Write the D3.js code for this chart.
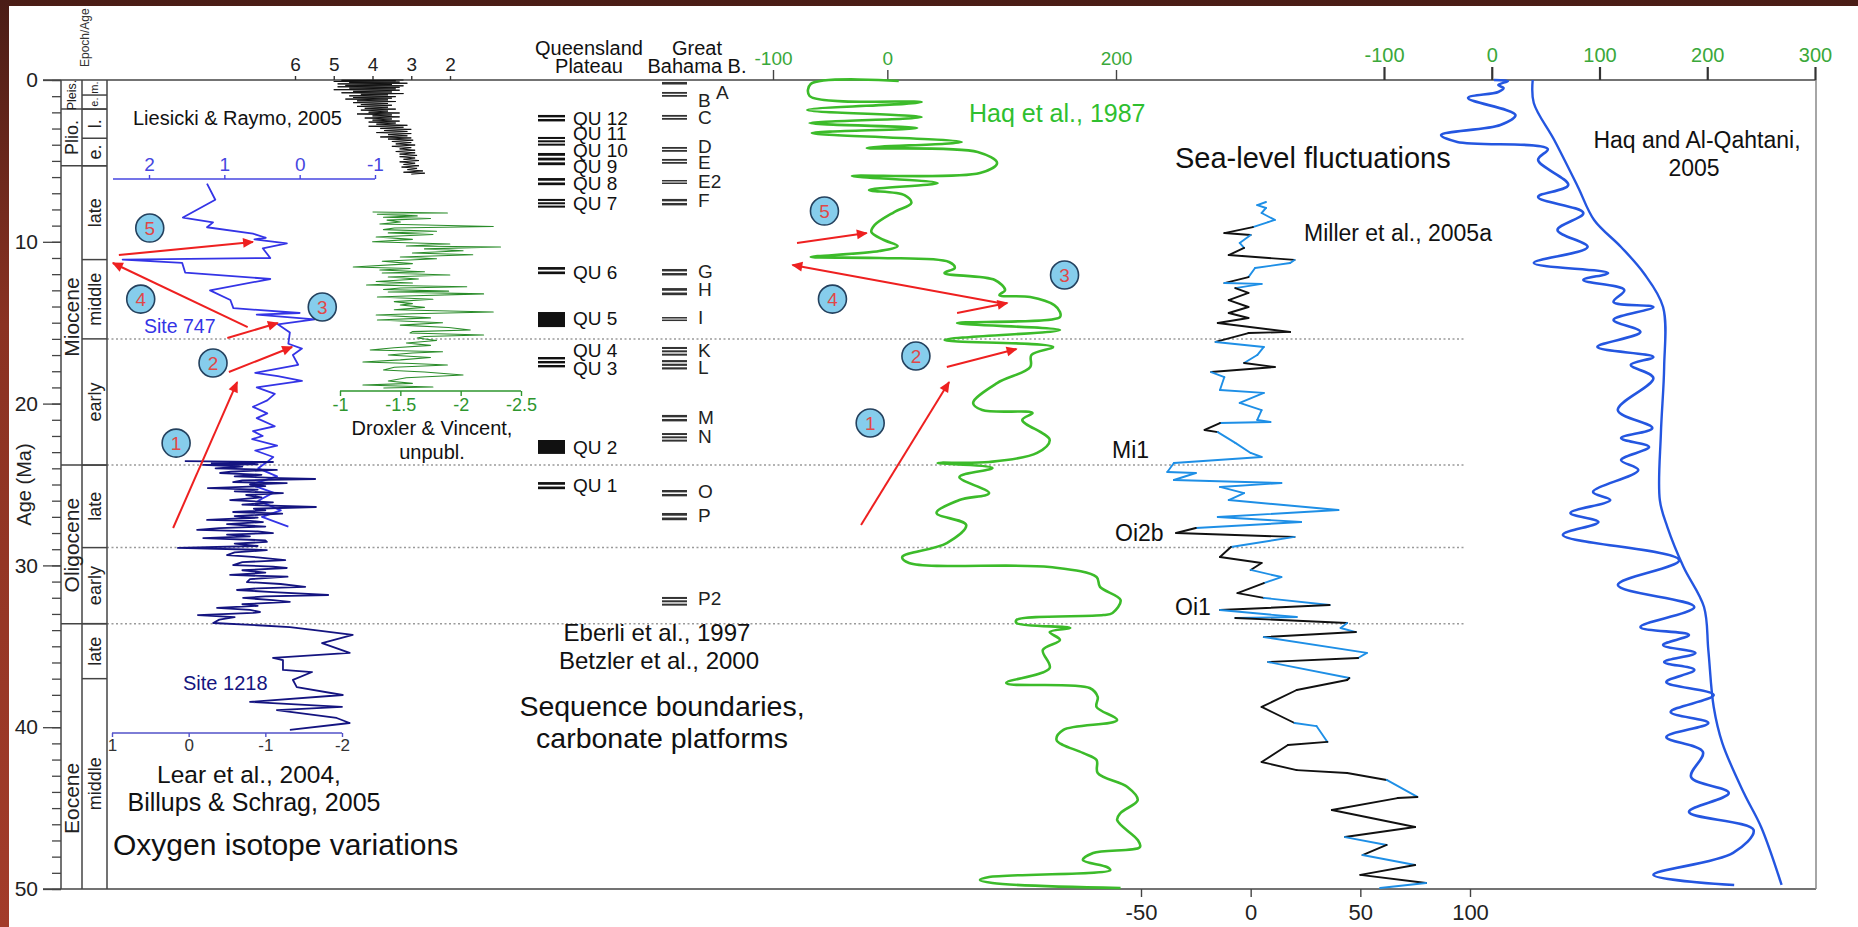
<!DOCTYPE html>
<html>
<head>
<meta charset="utf-8">
<script src="https://cdn.jsdelivr.net/npm/d3@7"></script>
<style>
  body { margin: 0; background: #fff; }
  svg { display: block; font-family: "Liberation Sans", Arial, sans-serif; }
</style>
</head>
<body>
<div id="chart"></div>
<script>
// ---- data (ages in Ma) ----
const epochs = [["Pleis.", 0, 1.8, 0.93], ["Plio.", 1.8, 5.3, 3.55], ["Miocene", 5.3, 23.8, 14.65],
  ["Oligocene", 23.8, 33.6, 28.75], ["Eocene", 33.6, 50, 44.4]];
const stages = [["m.", 0, 0.93], ["e.", 0.93, 1.8], ["l.", 1.8, 3.6], ["e.", 3.6, 5.3], ["late", 5.3, 11.1],
  ["middle", 11.1, 16.0], ["early", 16.0, 23.8], ["late", 23.8, 28.9], ["early", 28.9, 33.6],
  ["late", 33.6, 37.0], ["middle", 37.0, 50]];
const boundaries = [16.0, 23.8, 28.9, 33.6];

// Lisiecki & Raymo stack, d18O
const lr04 = [[0.00,3.2],[0.02,4.8],[0.05,3.4],[0.09,5.0],[0.13,3.3],[0.15,4.6],[0.20,3.1],[0.24,4.9],[0.28,3.5],
  [0.33,4.7],[0.36,3.2],[0.42,4.9],[0.45,3.3],[0.50,4.6],[0.55,3.4],[0.60,5.0],[0.63,3.3],[0.70,4.5],[0.74,3.5],
  [0.79,4.8],[0.84,3.2],[0.88,4.3],[0.92,3.6],[0.98,4.6],[1.03,3.4],[1.08,4.5],[1.12,3.5],[1.18,4.7],[1.23,3.6],
  [1.29,4.4],[1.33,3.4],[1.40,4.5],[1.45,3.6],[1.52,4.3],[1.56,3.5],[1.63,4.4],[1.68,3.6],[1.75,4.2],[1.80,3.4],
  [1.86,4.3],[1.92,3.6],[1.99,4.1],[2.04,3.3],[2.10,4.4],[2.16,3.5],[2.22,4.0],[2.28,3.3],[2.35,4.2],[2.41,3.5],
  [2.48,4.0],[2.54,3.3],[2.60,4.1],[2.66,3.4],[2.73,3.9],[2.80,3.1],[2.86,4.1],[2.92,3.2],[2.99,3.8],[3.05,3.0],
  [3.12,3.7],[3.18,3.1],[3.25,3.9],[3.31,3.0],[3.38,3.6],[3.45,3.1],[3.52,3.8],[3.58,3.0],[3.65,3.6],[3.72,2.95],
  [3.80,3.5],[3.87,3.0],[3.95,3.4],[4.02,2.9],[4.10,3.5],[4.18,3.0],[4.26,3.3],[4.34,2.9],[4.42,3.4],[4.50,2.9],
  [4.58,3.3],[4.66,2.85],[4.74,3.3],[4.82,2.9],[4.90,3.2],[4.98,2.8],[5.06,3.3],[5.14,2.9],[5.22,3.2],[5.30,2.8],
  [5.38,3.25],[5.46,2.85],[5.54,3.1],[5.62,2.7],[5.70,3.2],[5.76,2.65],[5.82,3.0]];

// Site 747
const site747 = [[6.40,1.23],[7.40,1.12],[8.50,1.55],[8.80,1.15],[9.10,1.23],[9.50,0.62],[9.75,0.45],[9.85,0.60],
  [10.10,0.17],[10.40,0.49],[11.00,0.39],[11.10,2.35],[11.30,1.56],[11.90,1.52],[12.30,0.39],[13.00,1.19],
  [13.60,0.92],[14.10,0.88],[14.40,0.0],[14.50,0.57],[14.80,-0.20],[15.10,0.29],[15.60,0.13],[16.30,0.15],
  [16.60,-0.03],[17.00,0.09],[17.60,0.02],[18.10,0.59],[18.30,0.29],[18.60,-0.03],[19.00,0.57],[19.40,0.33],
  [19.80,0.43],[20.20,0.62],[20.60,0.43],[20.90,0.57],[21.40,0.33],[21.70,0.62],[22.00,0.49],[22.20,0.63],
  [22.60,0.30],[22.90,0.59],[23.30,0.35],[23.60,0.43],[24.00,0.55],[24.50,0.30],[25.00,0.65],[25.50,0.35],
  [26.00,0.55],[26.60,0.25],[27.00,0.50],[27.60,0.15]];

// Site 1218 (Lear et al.; Billups & Schrag)
const site1218 = [[23.55,0.05],[23.61,-1.10],[23.68,-0.30],[23.75,-0.9],[23.79,-0.19],[23.90,-0.7],[24.00,-0.35],
  [24.10,-1.15],[24.20,-0.55],[24.29,-0.41],[24.40,-0.95],[24.50,-0.6],[24.60,-1.2],[24.66,-1.65],[24.75,-0.7],
  [24.85,-0.58],[24.91,-1.28],[25.00,-0.8],[25.10,-1.0],[25.22,-0.25],[25.32,-0.9],[25.42,-0.6],[25.53,-1.23],
  [25.65,-0.75],[25.80,-0.95],[25.96,-0.54],[26.10,-1.1],[26.25,-0.7],[26.39,-1.66],[26.50,-0.85],[26.60,-1.0],
  [26.70,-0.58],[26.80,-1.22],[26.95,-0.6],[27.05,-0.9],[27.19,-0.24],[27.25,-0.8],[27.32,-0.97],[27.45,-0.5],
  [27.60,-1.0],[27.70,-0.4],[27.81,-0.11],[27.90,-0.9],[28.00,-1.10],[28.10,-0.5],[28.20,-0.8],[28.31,-0.19],
  [28.45,-1.0],[28.55,-1.02],[28.65,-0.6],[28.80,-0.9],[28.92,0.14],[29.05,-1.02],[29.20,-0.6],[29.36,-0.50],
  [29.50,-0.9],[29.67,-1.26],[29.80,-0.7],[29.98,-0.58],[30.07,-1.1],[30.16,-1.28],[30.30,-0.7],[30.45,-1.0],
  [30.59,-0.54],[30.70,-1.29],[30.85,-0.8],[31.03,-0.76],[31.15,-1.2],[31.33,-1.52],[31.42,-0.9],[31.52,-0.63],
  [31.65,-1.1],[31.83,-1.82],[31.92,-1.0],[32.01,-0.71],[32.15,-1.1],[32.26,-1.32],[32.40,-0.7],[32.50,-0.9],
  [32.63,-0.37],[32.75,-0.8],[32.88,-0.93],[32.94,-0.84],[33.07,-0.12],[33.20,-0.6],[33.35,-0.4],[33.56,-0.32],
  [33.70,-0.9],[33.81,-1.32],[33.99,-1.62],[34.30,-2.14],[34.80,-1.74],[35.41,-2.10],[35.72,-1.10],[35.85,-1.23],
  [36.46,-1.23],[36.59,-1.61],[37.08,-1.36],[37.52,-1.41],[38.01,-2.01],[38.44,-0.80],[38.75,-2.00],[38.94,-1.15],
  [39.43,-1.93],[39.74,-2.10],[40.17,-1.32]];

// Droxler & Vincent, unpubl.
const droxler = [[8.16,-1.27],[8.22,-1.89],[8.30,-1.31],[8.40,-1.64],[8.48,-1.36],[8.56,-1.75],[8.66,-1.39],
  [8.78,-1.5],[8.90,-1.33],[9.05,-2.27],[9.15,-1.45],[9.25,-1.36],[9.35,-1.8],[9.45,-1.4],[9.55,-1.77],[9.70,-1.3],
  [9.85,-1.6],[10.0,-1.27],[10.14,-1.91],[10.26,-1.55],[10.32,-2.33],[10.44,-1.7],[10.55,-2.02],[10.69,-1.6],
  [10.80,-2.10],[10.94,-1.5],[11.05,-1.8],[11.20,-1.35],[11.35,-1.6],[11.56,-1.11],[11.65,-1.58],[11.74,-1.33],
  [11.85,-1.7],[11.93,-1.35],[12.05,-1.91],[12.18,-1.4],[12.30,-1.65],[12.45,-1.3],[12.55,-1.6],[12.67,-1.22],
  [12.78,-2.05],[12.86,-1.5],[12.95,-1.36],[13.05,-1.9],[13.10,-1.4],[13.22,-2.19],[13.35,-1.55],[13.41,-1.31],
  [13.55,-1.77],[13.70,-1.45],[13.82,-1.6],[13.91,-1.5],[14.05,-1.7],[14.20,-1.45],[14.34,-2.27],[14.45,-1.6],
  [14.52,-1.3],[14.70,-1.75],[14.83,-1.31],[15.0,-1.85],[15.15,-1.5],[15.30,-1.9],[15.45,-2.08],[15.55,-1.6],
  [15.64,-1.58],[15.76,-2.19],[15.85,-1.7],[15.95,-1.64],[16.10,-1.8],[16.25,-1.55],[16.40,-1.75],[16.55,-1.45],
  [16.69,-1.25],[16.80,-1.85],[16.87,-1.6],[17.0,-1.4],[17.15,-1.75],[17.30,-1.5],[17.43,-1.19],[17.52,-1.6],
  [17.61,-1.89],[17.75,-1.45],[17.92,-1.36],[18.05,-1.7],[18.23,-2.02],[18.40,-1.55],[18.60,-1.4],[18.75,-1.6],
  [18.85,-1.19],[18.97,-1.77],[19.04,-1.36]];

// Queensland Plateau sequence boundaries
const quLabels = [["QU 12",2.35],["QU 11",3.28],["QU 10",4.33],["QU 9",5.32],["QU 8",6.37],["QU 7",7.6],
  ["QU 6",11.87],["QU 5",14.7],["QU 4",16.69],["QU 3",17.8],["QU 2",22.68],["QU 1",25.03]];
const quBars = [[2.16,2.66],[3.52,4.14],[4.51,5.38],[6.06,6.61],[7.35,7.97],[11.56,12.11],[14.34,15.27],
  [17.12,17.86],[22.25,23.11],[24.85,25.40]];
const quSolid = [6, 8];

// Great Bahama Bank sequence boundaries: name, top, bottom, label age
const gbbBars = [["A",0.12,0.28,0.74],["B",0.74,1.11,1.24],["C",2.16,2.53,2.29],["D",4.14,4.51,4.08],
  ["E",4.88,5.25,5.07],["E2",6.18,6.49,6.24],["F",7.35,7.85,7.42],["G",11.68,12.18,11.80],["H",12.86,13.41,12.92],
  ["I",14.65,14.96,14.65],["K",16.50,17.12,16.69],["L",17.31,17.98,17.74],["M",20.70,21.20,20.83],
  ["N",21.82,22.43,22.0],["O",25.34,25.83,25.40],["P",26.76,27.32,26.88],["P2",31.95,32.57,32.01]];

// Haq et al., 1987 (m)
const haq87 = [[0.06,10],[0.25,-67],[0.99,-68],[1.36,30],[1.85,-70],[2.29,30],[2.66,-68],[2.97,26],[3.28,-66],
  [3.83,65],[4.20,-18],[4.45,79],[5.13,96],[5.75,81],[5.93,-31],[6.37,44],[6.80,-16],[7.11,15],[7.60,21],[8.16,6],
  [8.96,-11],[9.39,-14],[9.89,-3],[10.26,9],[10.57,-7],[10.94,-67],[11.0,-7],[11.25,54],[11.62,59],[11.93,50],
  [12.36,94],[12.98,103],[13.29,98],[13.41,125],[13.91,146],[14.34,151],[14.65,151],[15.02,61],[15.45,151],
  [16.07,50],[16.50,145],[17.0,126],[17.74,125],[18.73,96],[19.96,75],[20.40,83],[20.58,127],[21.01,118],
  [22.25,142],[23.05,131],[23.61,89],[23.67,44],[23.98,92],[24.54,63],[25.53,89],[25.96,63],[26.76,43],[27.50,69],
  [28.62,52],[29.48,13],[29.85,19],[30.10,142],[30.72,183],[31.33,186],[32.14,204],[32.94,197],[33.07,189],
  [33.37,113],[33.56,113],[33.87,160],[34.12,142],[34.61,151],[35.23,136],[36.34,142],[37.27,104],[37.58,177],
  [38.13,184],[38.75,183],[39.56,201],[40.17,154],[40.79,148],[41.59,171],[42.03,183],[42.83,184],[43.70,210],
  [44.50,219],[45.30,204],[45.74,201],[46.97,219],[47.40,221],[47.77,180],[48.21,171],[48.64,192],[48.83,195],
  [49.26,89],[49.44,81],[49.63,92],[49.94,204]];

// Miller et al., 2005a (m); "b" = blue segment, "k" = black segment
const miller = [[7.54,7,"b"],[7.73,3,"b"],[7.91,7,"b"],[8.22,5,"b"],[8.65,11,"b"],[8.78,8,"b"],[9.09,1,"b"],
  [9.46,-12,"k"],[9.58,0,"k"],[10.07,-5,"b"],[10.38,-3,"b"],[10.82,-10,"k"],[11.12,20,"k"],[11.31,18,"b"],
  [11.62,2,"b"],[12.18,-1,"b"],[12.55,-12,"k"],[12.6,5,"b"],[12.86,-7,"b"],[13.16,-1,"k"],[13.60,-10,"k"],
  [14.03,-1,"k"],[14.40,-10,"k"],[14.71,-1,"k"],[15.02,-15,"k"],[15.57,18,"k"],[15.64,-1,"k"],[16.19,-16,"k"],
  [16.50,6,"b"],[17.0,3,"b"],[17.49,-3,"b"],[17.74,11,"k"],[18.05,-18,"k"],[18.36,-12,"b"],[19.16,-14,"b"],
  [19.34,6,"b"],[19.96,-5,"b"],[20.40,5,"b"],[21.01,3,"b"],[21.14,9,"b"],[21.20,-14,"b"],[21.63,-21,"k"],
  [21.76,-15,"k"],[22.43,-7,"b"],[23.05,0,"b"],[23.30,5,"b"],[23.67,-35,"b"],[24.23,-38,"b"],[24.29,-25,"b"],
  [24.72,-35,"b"],[24.91,14,"b"],[25.15,-14,"b"],[25.53,-3,"b"],[25.96,-10,"b"],[26.58,40,"b"],[27.01,-15,"b"],
  [27.32,23,"b"],[27.69,-25,"b"],[28.0,-34,"k"],[28.24,20,"k"],[28.86,-9,"b"],[29.48,-14,"k"],[29.85,5,"k"],
  [30.28,0,"k"],[30.72,14,"b"],[31.09,6,"b"],[31.71,-6,"k"],[32.01,6,"k"],[32.45,36,"b"],[32.76,-14,"k"],
  [33.19,21,"b"],[33.25,-7,"b"],[33.56,44,"k"],[33.87,41,"b"],[34.12,48,"b"],[34.43,6,"k"],[35.41,53,"b"],
  [35.72,49,"b"],[35.97,8,"k"],[36.96,45,"b"],[37.08,44,"k"],[37.70,21,"k"],[38.75,5,"k"],[39.74,20,"k"],
  [39.93,30,"b"],[40.91,35,"b"],[41.10,17,"k"],[42.15,5,"k"],[42.65,21,"k"],[42.83,44,"k"],[43.26,62,"k"],
  [44.31,76,"b"],[44.38,67,"k"],[45.12,37,"k"],[46.17,75,"k"],[46.79,43,"k"],[47.28,62,"b"],[47.90,51,"k"],
  [48.52,75,"b"],[49.13,50,"k"],[49.63,80,"k"],[49.94,59,"b"]];

// Haq and Al-Qahtani, 2005 (m): short-term and long-term curves
const haqAQ = [[0,2],[0.06,15],[0.31,6],[0.49,11],[0.74,6],[1.11,-22],[2.16,22],[2.78,8],[3.40,-47],[3.83,-32],
  [4.26,52],[4.94,43],[6.49,71],[7.23,43],[8.22,85],[9.27,61],[10.32,89],[11.31,39],[11.93,108],[12.36,85],
  [12.98,123],[13.72,113],[14.03,150],[14.83,113],[15.57,138],[16.50,98],[17.12,150],[17.61,129],[18.42,150],
  [20.40,117],[21.51,149],[22.13,120],[22.68,146],[23.49,120],[24.10,136],[25.46,94],[25.96,110],[26.76,73],
  [27.32,99],[28.12,66],[29.67,174],[31.21,117],[32.57,188],[33.81,138],[34.30,183],[34.92,159],[35.41,189],
  [35.97,160],[36.46,188],[37.21,162],[38.01,206],[39.06,166],[39.74,201],[40.61,162],[41.53,196],[43.08,185],
  [44.07,220],[45.24,183],[46.35,243],[47.77,224],[49.13,150],[49.75,225]];
const haqAQlong = [[0,38],[1.42,39],[3.71,58],[6.61,80],[8.65,95],[10.32,120],[11.93,141],[14.03,159],[17.74,160],
  [21.82,157],[25.96,156],[27.63,163],[30.10,178],[32.57,197],[35.23,201],[38.75,206],[40.98,214],[44.07,234],
  [46.17,250],[49.75,269]];

// numbered events: left on Site 747 scale, right on Haq 1987 scale
const leftMarks = [["5",9.15,1.99],["4",13.54,2.11],["3",14.03,-0.30],["2",17.49,1.15],["1",22.44,1.64]];
const leftArrows = [[[10.82,2.40],[10.01,0.62]],[[15.27,0.69],[11.31,2.48]],[[15.95,0.96],[15.02,0.29]],
  [[18.05,0.94],[16.50,0.10]],[[27.69,1.68],[18.67,0.83]]];
const rightMarks = [["5",8.10,-55],["4",13.54,-48],["3",12.05,155],["2",17.06,25],["1",21.20,-15]];
const rightArrows = [[[10.07,-79],[9.46,-18]],[[13.84,103],[11.43,-83]],[[14.40,61],[13.78,105]],
  [[17.74,52],[16.63,113]],[[27.50,-23],[18.67,54]]];

// ---- drawing ----
const W = 1858, H = 927;
const svg = d3.select("#chart").append("svg").attr("width", W).attr("height", H);
const defs = svg.append("defs");

const grad = defs.append("linearGradient").attr("id", "frame")
  .attr("x1", 0).attr("y1", 0).attr("x2", 0).attr("y2", 1);
grad.append("stop").attr("offset", "0%").attr("stop-color", "#4a1d16");
grad.append("stop").attr("offset", "35%").attr("stop-color", "#8a3222");
grad.append("stop").attr("offset", "100%").attr("stop-color", "#a33c2a");

defs.append("marker").attr("id", "head").attr("viewBox", "0 -5 10 10")
  .attr("refX", 9).attr("refY", 0).attr("markerWidth", 14).attr("markerHeight", 11)
  .attr("markerUnits", "userSpaceOnUse").attr("orient", "auto")
  .append("path").attr("d", "M0,-4.5L10,0L0,4.5Z").attr("fill", "#ee2020");

svg.append("rect").attr("width", W).attr("height", H).attr("fill", "url(#frame)");
svg.append("rect").attr("x", 9).attr("y", 6).attr("width", W - 9).attr("height", H - 6).attr("fill", "#fff");

// scales
const y = d3.scaleLinear().domain([0, 50]).range([80, 889]);
const xLR = d3.scaleLinear().domain([6, 2]).range([295, 450]);
const x747 = d3.scaleLinear().domain([2, -1]).range([149, 375]);
const x1218 = d3.scaleLinear().domain([1, -2]).range([112, 342]);
const xDrox = d3.scaleLinear().domain([-1, -2.5]).range([340, 521]);
const xHaq = d3.scaleLinear().domain([-100, 200]).range([773, 1116]);
const xMil = d3.scaleLinear().domain([-50, 100]).range([1141, 1470]);
const xHQ = d3.scaleLinear().domain([-100, 300]).range([1384, 1815]);

const left = 61, colMid = 82, colRight = 107, right = 1816;
const green = "#3aa83a";
const plain = d => String(d);

// dotted boundary lines
svg.append("g").selectAll("line").data(boundaries).join("line")
  .attr("x1", colRight).attr("x2", 1465).attr("y1", d => y(d)).attr("y2", d => y(d))
  .attr("stroke", "#9a9a9a").attr("stroke-width", 1.5).attr("stroke-dasharray", "2,2.5");

// frame lines
const frame = svg.append("g").attr("stroke", "#444").attr("stroke-width", 1.5);
frame.append("line").attr("x1", 43).attr("x2", right).attr("y1", y(0)).attr("y2", y(0));
frame.append("line").attr("x1", 43).attr("x2", right).attr("y1", y(50)).attr("y2", y(50));
frame.append("line").attr("x1", right).attr("x2", right).attr("y1", y(0)).attr("y2", y(50)).attr("stroke", "#888");
[left, colMid, colRight].forEach(x => frame.append("line").attr("x1", x).attr("x2", x).attr("y1", y(0)).attr("y2", y(50)));

// age axis
const gMinor = svg.append("g").attr("transform", `translate(${left},0)`)
  .call(d3.axisLeft(y).tickValues(d3.range(0, 51, 1)).tickSize(9).tickFormat(""));
const gMajor = svg.append("g").attr("transform", `translate(${left},0)`)
  .call(d3.axisLeft(y).tickValues([0, 10, 20, 30, 40, 50]).tickSize(18).tickPadding(5).tickFormat(plain));
[gMinor, gMajor].forEach(g => {
  g.select(".domain").remove();
  g.selectAll("line").attr("stroke", "#444").attr("stroke-width", 1.3);
  g.selectAll("text").attr("font-size", 21).attr("fill", "#222").attr("font-family", "Liberation Sans, Arial, sans-serif");
});
svg.append("text").attr("transform", `translate(24,${y(25)}) rotate(-90)`).attr("text-anchor", "middle")
  .attr("dy", "0.35em").attr("font-size", 20).attr("fill", "#222").text("Age (Ma)");
svg.append("text").attr("transform", `translate(89,67) rotate(-90)`).attr("font-size", 12)
  .attr("fill", "#333").text("Epoch/Age");

// epoch / age column
epochs.forEach(([name, a0, a1, la]) => {
  if (a1 < 50) frame.append("line").attr("x1", left).attr("x2", colRight).attr("y1", y(a1)).attr("y2", y(a1));
  const fs = name === "Pleis." ? 12.5 : (name === "Plio." ? 18 : 21);
  svg.append("text").attr("transform", `translate(${(left + colMid) / 2},${y(la)}) rotate(-90)`)
    .attr("text-anchor", "middle").attr("dy", "0.36em").attr("font-size", fs).attr("fill", "#222").text(name);
});
stages.forEach(([name, a0, a1]) => {
  if (a1 < 50) frame.append("line").attr("x1", colMid).attr("x2", colRight).attr("y1", y(a1)).attr("y2", y(a1));
  const fs = a1 <= 1.8 ? 11 : 18;
  svg.append("text").attr("transform", `translate(${(colMid + colRight) / 2},${y((a0 + a1) / 2)}) rotate(-90)`)
    .attr("text-anchor", "middle").attr("dy", "0.36em").attr("font-size", fs).attr("fill", "#222").text(name);
});

// small axes helper
function styleAxis(g, color, fs, labelColor) {
  g.select(".domain").remove();
  g.selectAll("line").attr("stroke", color).attr("stroke-width", 1.4);
  g.selectAll("text").attr("font-size", fs).attr("fill", labelColor || color)
    .attr("font-family", "Liberation Sans, Arial, sans-serif");
}
function axisLine(x0, x1, yy, color) {
  svg.append("line").attr("x1", x0).attr("x2", x1).attr("y1", yy).attr("y2", yy)
    .attr("stroke", color).attr("stroke-width", 1.6);
}

// LR04 axis
styleAxis(svg.append("g").attr("transform", `translate(0,${y(0)})`)
  .call(d3.axisTop(xLR).tickValues([6, 5, 4, 3, 2]).tickSize(4).tickPadding(5).tickFormat(plain)), "#333", 19, "#222");
// Site 747 axis
const y747 = 179;
axisLine(113, x747(-1), y747, "#4646e0");
styleAxis(svg.append("g").attr("transform", `translate(0,${y747})`)
  .call(d3.axisTop(x747).tickValues([2, 1, 0, -1]).tickSize(4).tickPadding(4).tickFormat(plain)), "#4646e0", 19);
// Site 1218 axis
const y1218 = 733;
axisLine(x1218(1), x1218(-2), y1218, "#5252c8");
styleAxis(svg.append("g").attr("transform", `translate(0,${y1218})`)
  .call(d3.axisBottom(x1218).tickValues([1, 0, -1, -2]).tickSize(4).tickPadding(2).tickFormat(plain)), "#5252c8", 17, "#333");
// Droxler axis
const yDrox = 391;
axisLine(xDrox(-1), xDrox(-2.5), yDrox, "#2e962e");
styleAxis(svg.append("g").attr("transform", `translate(0,${yDrox})`)
  .call(d3.axisBottom(xDrox).tickValues([-1, -1.5, -2, -2.5]).tickSize(5).tickPadding(2).tickFormat(plain)), "#2e962e", 18);
// Haq 1987 axis
styleAxis(svg.append("g").attr("transform", `translate(0,${y(0)})`)
  .call(d3.axisTop(xHaq).tickValues([-100, 0, 200]).tickSize(10).tickPadding(5).tickFormat(plain)), "#444", 19, green);
// Miller axis
styleAxis(svg.append("g").attr("transform", `translate(0,${y(50)})`)
  .call(d3.axisBottom(xMil).tickValues([-50, 0, 50, 100]).tickSize(8).tickPadding(7).tickFormat(plain)), "#444", 22, "#222");
// Haq & Al-Qahtani axis
const gHQ = svg.append("g").attr("transform", `translate(0,${y(0)})`)
  .call(d3.axisTop(xHQ).tickValues([-100, 0, 100, 200, 300]).tickSize(13).tickPadding(5).tickFormat(plain));
styleAxis(gHQ, "#333", 20, green);
gHQ.selectAll("line").attr("stroke-width", 2.2);

// curves
const curves = svg.append("g").attr("fill", "none").attr("stroke-linejoin", "round");
curves.append("path").datum(lr04).attr("d", d3.line().x(d => xLR(d[1])).y(d => y(d[0])))
  .attr("stroke", "#111").attr("stroke-width", 1);
curves.append("path").datum(droxler).attr("d", d3.line().x(d => xDrox(d[1])).y(d => y(d[0])))
  .attr("stroke", "#2a8c2a").attr("stroke-width", 1.1);
curves.append("path").datum(site747).attr("d", d3.line().x(d => x747(d[1])).y(d => y(d[0])))
  .attr("stroke", "#3434e6").attr("stroke-width", 1.8);
curves.append("path").datum(site1218).attr("d", d3.line().x(d => x1218(d[1])).y(d => y(d[0])))
  .attr("stroke", "#141480").attr("stroke-width", 1.8);
curves.append("path").datum(haq87)
  .attr("d", d3.line().x(d => xHaq(d[1])).y(d => y(d[0])).curve(d3.curveCatmullRom.alpha(0.5)))
  .attr("stroke", "#3cbb2a").attr("stroke-width", 2.6);
curves.append("path").datum(haqAQ)
  .attr("d", d3.line().x(d => xHQ(d[1])).y(d => y(d[0])).curve(d3.curveCatmullRom.alpha(0.5)))
  .attr("stroke", "#2456e0").attr("stroke-width", 2.6);
curves.append("path").datum(haqAQlong)
  .attr("d", d3.line().x(d => xHQ(d[1])).y(d => y(d[0])).curve(d3.curveCatmullRom.alpha(0.5)))
  .attr("stroke", "#2456e0").attr("stroke-width", 2.4);
const milLine = d3.line().x(d => xMil(d[1])).y(d => y(d[0]));
curves.selectAll(".mil").data(d3.pairs(miller)).join("path").attr("class", "mil")
  .attr("d", d => milLine(d)).attr("stroke", d => d[1][2] === "b" ? "#1e8fe6" : "#111")
  .attr("stroke-width", 1.9).attr("stroke-linecap", "round");

// sequence boundary bars
function stripes(g, a0, a1, x0, w, color, solid) {
  const y0 = y(a0), y1 = y(a1);
  if (solid) {
    g.append("rect").attr("x", x0).attr("y", y0).attr("width", w).attr("height", y1 - y0).attr("fill", color);
    return;
  }
  const n = Math.max(2, Math.round((y1 - y0 + 2) / 4.6));
  const step = (y1 - y0) / n;
  for (let i = 0; i < n; i++) {
    g.append("rect").attr("x", x0).attr("y", y0 + i * step).attr("width", w)
      .attr("height", step * 0.6).attr("fill", color);
  }
}
const gQU = svg.append("g");
quBars.forEach((b, i) => stripes(gQU, b[0], b[1], 538, 27, "#111", quSolid.includes(i)));
gQU.selectAll("text").data(quLabels).join("text").attr("x", 573).attr("y", d => y(d[1]))
  .attr("dy", "0.36em").attr("font-size", 19).attr("fill", "#111").text(d => d[0]);
const gGB = svg.append("g");
gbbBars.forEach(b => {
  if (b[0] === "A") gGB.append("rect").attr("x", 662).attr("y", y(b[1])).attr("width", 25)
    .attr("height", y(b[2]) - y(b[1])).attr("fill", "#333");
  else stripes(gGB, b[1], b[2], 662, 25, "#333", false);
});
gGB.selectAll("text").data(gbbBars).join("text").attr("x", d => d[0] === "A" ? 716 : 698)
  .attr("y", d => y(d[3])).attr("dy", "0.36em").attr("font-size", 19).attr("fill", "#222").text(d => d[0]);

// text annotations
function label(x, yy, txt, fs, color, anchor) {
  svg.append("text").attr("x", x).attr("y", yy).attr("dy", "0.36em").attr("font-size", fs)
    .attr("fill", color || "#111").attr("text-anchor", anchor || "start").text(txt);
}
label(133, 118, "Liesicki & Raymo, 2005", 20);
label(144, 326, "Site 747", 19.5, "#3434e6");
label(183, 683, "Site 1218", 20, "#141480");
label(249, 774, "Lear et al., 2004,", 24.5, "#111", "middle");
label(254, 802, "Billups & Schrag, 2005", 25, "#111", "middle");
label(113, 844, "Oxygen isotope variations", 30);
label(432, 428, "Droxler & Vincent,", 20, "#111", "middle");
label(432, 452, "unpubl.", 20, "#111", "middle");
label(589, 48, "Queensland", 20, "#111", "middle");
label(589, 66, "Plateau", 20, "#111", "middle");
label(697, 48, "Great", 20, "#111", "middle");
label(697, 66, "Bahama B.", 20, "#111", "middle");
label(657, 632, "Eberli et al., 1997", 24, "#111", "middle");
label(659, 660, "Betzler et al., 2000", 24, "#111", "middle");
label(662, 706, "Sequence boundaries,", 28.5, "#111", "middle");
label(662, 738, "carbonate platforms", 28.5, "#111", "middle");
label(969, 113, "Haq et al., 1987", 25, "#2fbf2f");
label(1175, 158, "Sea-level fluctuations", 29);
label(1304, 233, "Miller et al., 2005a", 23);
label(1697, 140, "Haq and Al-Qahtani,", 23, "#111", "middle");
label(1694, 168, "2005", 23, "#111", "middle");
label(1112, 450, "Mi1", 23);
label(1115, 533, "Oi2b", 23);
label(1175, 607, "Oi1", 23);

// arrows and numbered circles
function events(marks, arrows, xs) {
  const g = svg.append("g");
  g.selectAll("line").data(arrows).join("line")
    .attr("x1", d => xs(d[0][1])).attr("y1", d => y(d[0][0]))
    .attr("x2", d => xs(d[1][1])).attr("y2", d => y(d[1][0]))
    .attr("stroke", "#ee2020").attr("stroke-width", 2).attr("marker-end", "url(#head)");
  const m = g.selectAll("g").data(marks).join("g")
    .attr("transform", d => `translate(${xs(d[2])},${y(d[1])})`);
  m.append("circle").attr("r", 14).attr("fill", "#86cdec").attr("stroke", "#24415e").attr("stroke-width", 1.6);
  m.append("text").attr("text-anchor", "middle").attr("dy", "0.36em").attr("font-size", 19)
    .attr("fill", "#e04848").text(d => d[0]);
}
events(leftMarks, leftArrows, x747);
events(rightMarks, rightArrows, xHaq);
</script>
</body>
</html>
